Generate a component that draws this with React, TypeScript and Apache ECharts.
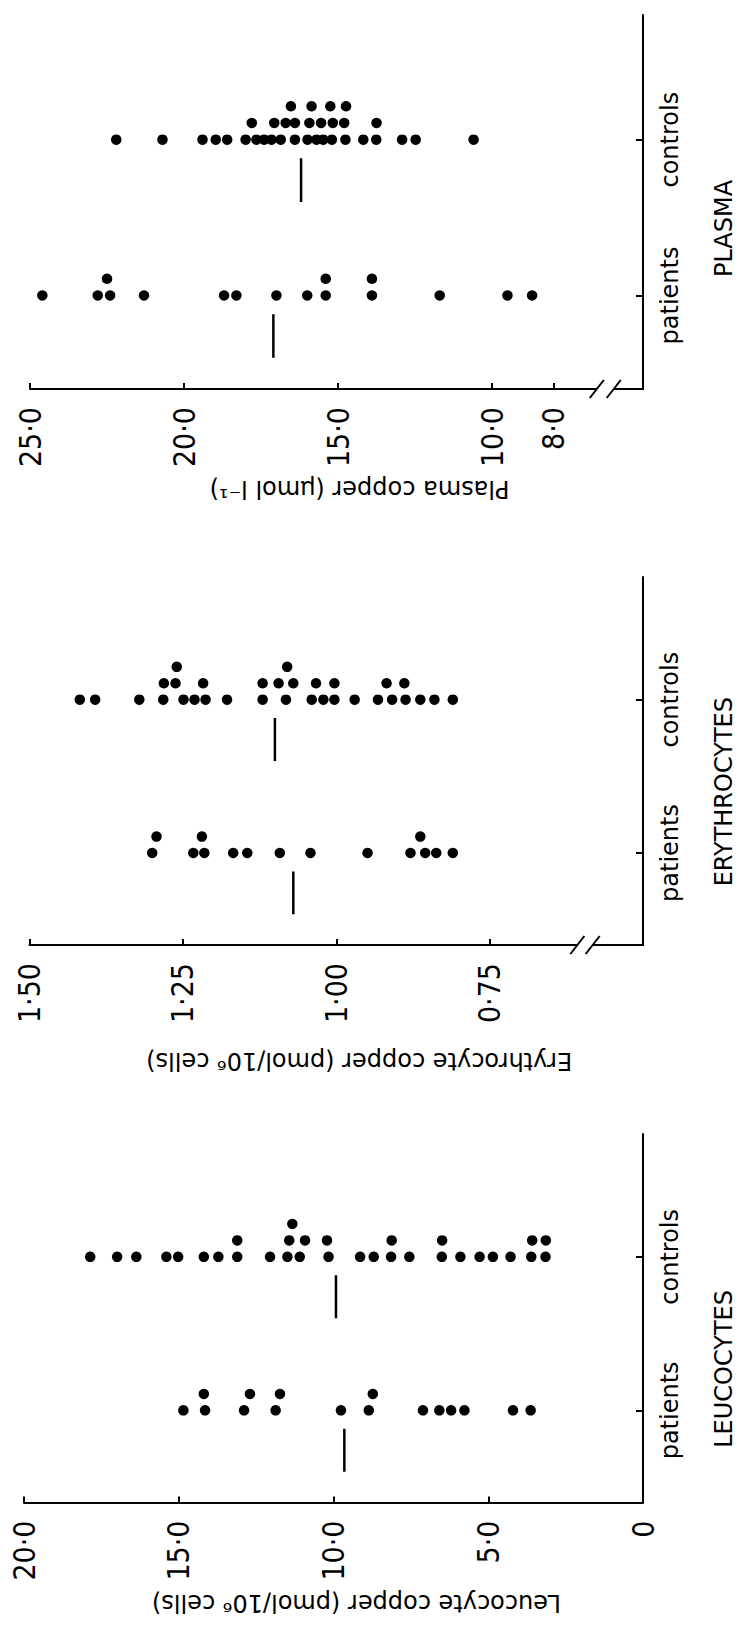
import React, { useEffect, useRef } from "react";
import * as echarts from "echarts";

// ---------- data ----------
const categories = ["patients", "controls"];
const panelTitles = ["PLASMA", "ERYTHROCYTES", "LEUCOCYTES"];
const axisTitles = [
  "Plasma copper (μmol l⁻¹)",
  "Erythrocyte copper (pmol/10⁶ cells)",
  "Leucocyte copper (pmol/10⁶ cells)",
];

const plasmaTicks = [25, 20, 15, 10, 8];
const erythroTicks = [1.5, 1.25, 1.0, 0.75];
const leucoTicks = [20, 15, 10, 5, 0];

// each point: [value, stack level]
const plasmaPatients: [number, number][] = [
  [24.6, 0], [22.8, 0], [22.4, 0], [22.5, 1], [21.3, 0], [18.7, 0], [18.3, 0],
  [17.0, 0], [16.0, 0], [15.4, 0], [15.4, 1], [13.9, 0], [13.9, 1], [11.7, 0],
  [9.5, 0], [8.7, 0],
];
const plasmaControls: [number, number][] = [
  [22.2, 0], [20.7, 0], [19.4, 0], [18.97, 0], [18.6, 0], [18.0, 0], [17.65, 0],
  [17.4, 0], [17.16, 0], [16.86, 0], [16.4, 0], [15.99, 0], [15.7, 0], [15.48, 0],
  [15.2, 0], [14.76, 0], [14.18, 0], [13.76, 0], [12.92, 0], [12.48, 0], [10.6, 0],
  [17.8, 1], [17.07, 1], [16.7, 1], [16.4, 1], [15.93, 1], [15.55, 1], [15.17, 1],
  [14.8, 1], [13.75, 1],
  [16.53, 2], [15.86, 2], [15.25, 2], [14.74, 2],
];
const erythroPatients: [number, number][] = [
  [1.3, 0], [1.233, 0], [1.215, 0], [1.168, 0], [1.145, 0], [1.092, 0], [1.042, 0],
  [0.949, 0], [0.879, 0], [0.855, 0], [0.837, 0], [0.81, 0],
  [1.293, 1], [1.219, 1], [0.863, 1],
];
const erythroControls: [number, number][] = [
  [1.418, 0], [1.393, 0], [1.321, 0], [1.282, 0], [1.249, 0], [1.231, 0], [1.213, 0],
  [1.178, 0], [1.12, 0], [1.082, 0], [1.04, 0], [1.021, 0], [1.003, 0], [0.97, 0],
  [0.932, 0], [0.909, 0], [0.887, 0], [0.863, 0], [0.84, 0], [0.81, 0],
  [1.281, 1], [1.262, 1], [1.217, 1], [1.12, 1], [1.094, 1], [1.07, 1], [1.033, 1],
  [1.003, 1], [0.918, 1], [0.889, 1],
  [1.26, 2], [1.08, 2],
];
const leucoPatients: [number, number][] = [
  [14.85, 0], [14.15, 0], [12.89, 0], [11.87, 0], [9.76, 0], [8.86, 0], [7.11, 0],
  [6.58, 0], [6.2, 0], [5.77, 0], [4.2, 0], [3.63, 0],
  [14.19, 1], [12.7, 1], [11.73, 1], [8.73, 1],
];
const leucoControls: [number, number][] = [
  [17.86, 0], [16.99, 0], [16.37, 0], [15.4, 0], [15.02, 0], [14.19, 0], [13.72, 0],
  [13.11, 0], [12.05, 0], [11.49, 0], [11.09, 0], [10.16, 0], [9.14, 0], [8.7, 0],
  [8.14, 0], [7.55, 0], [6.5, 0], [5.9, 0], [5.28, 0], [4.85, 0], [4.28, 0],
  [3.61, 0], [3.15, 0],
  [13.11, 1], [11.43, 1], [10.92, 1], [10.21, 1], [8.12, 1], [6.49, 1], [3.58, 1],
  [3.14, 1],
  [11.33, 2],
];

// medians: [patients, controls]
const plasmaMedians = [17.1, 16.2];
const erythroMedians = [1.07, 1.1];
const leucoMedians = [9.65, 9.92];

// axis-break positions (values on the value axis); none for leucocytes
const plasmaBreak = [6.6, 6.05];
const erythroBreak = [0.607, 0.582];

// ---------- layout / style ----------
const STACK = 0.107;
const Y_MIN = 0.4;
const Y_MAX = 2.8;
const AXIS_RIGHT = 643;
const BLACK = "#000";
const TICK_FONT = "'Liberation Sans Narrow', 'DejaVu Sans Condensed', 'Arial Narrow', sans-serif";
const TEXT_FONT = "'DejaVu Sans', sans-serif";

type Panel = {
  left: number;
  top: number;
  height: number;
  min: number;
  max: number;
  ticks: number[];
  fmt: (v: number) => string;
  nameGap: number;
  patients: [number, number][];
  controls: [number, number][];
  medians: number[];
  brk: number[] | null;
  titleY: number;
};

const dotFmt1 = (v: number) => (v === 0 ? "0" : v.toFixed(1).replace(".", "·"));
const dotFmt2 = (v: number) => v.toFixed(2).replace(".", "·");

const panels: Panel[] = [
  {
    left: 30, top: 15, height: 374, min: 5.1, max: 25, ticks: plasmaTicks, fmt: dotFmt1,
    nameGap: 88, patients: plasmaPatients, controls: plasmaControls, medians: plasmaMedians,
    brk: plasmaBreak, titleY: 1.43,
  },
  {
    left: 29.5, top: 577, height: 368, min: 0.5, max: 1.5, ticks: erythroTicks, fmt: dotFmt2,
    nameGap: 104, patients: erythroPatients, controls: erythroControls, medians: erythroMedians,
    brk: erythroBreak, titleY: 1.4,
  },
  {
    left: 24, top: 1134, height: 368.5, min: 0, max: 20, ticks: leucoTicks, fmt: dotFmt1,
    nameGap: 88, patients: leucoPatients, controls: leucoControls, medians: leucoMedians,
    brk: null, titleY: 1.27,
  },
];

function buildOption() {
  const grid: any[] = [];
  const xAxis: any[] = [];
  const yAxis: any[] = [];
  const series: any[] = [];
  panels.forEach((p, i) => {
    grid.push({
      left: p.left,
      top: p.top,
      width: AXIS_RIGHT - p.left,
      height: p.height,
      containLabel: false,
      outerBoundsMode: "none",
    });
    xAxis.push({
      gridIndex: i,
      type: "value",
      inverse: true,
      min: p.min,
      max: p.max,
      position: "bottom",
      splitLine: { show: false },
      axisLine: { show: true, onZero: false, lineStyle: { color: BLACK, width: 2 } },
      axisTick: {
        show: true,
        inside: true,
        length: 6,
        customValues: p.ticks,
        lineStyle: { color: BLACK, width: 2 },
      },
      axisLabel: {
        show: true,
        customValues: p.ticks,
        rotate: 90,
        margin: 18,
        formatter: (v: number) => p.fmt(v),
        color: BLACK,
        fontSize: 30,
        fontFamily: TICK_FONT,
      },
      name: axisTitles[i],
      nameLocation: "middle",
      nameRotate: 180,
      nameGap: p.nameGap,
      nameTextStyle: {
        color: BLACK,
        fontSize: 24,
        fontFamily: TEXT_FONT,
        padding: [0, 46, 0, 0],
      },
    });
    yAxis.push({
      gridIndex: i,
      type: "value",
      min: Y_MIN,
      max: Y_MAX,
      position: "right",
      splitLine: { show: false },
      axisLine: { show: true, onZero: false, lineStyle: { color: BLACK, width: 2 } },
      axisTick: {
        show: true,
        inside: true,
        length: 7,
        customValues: [1, 2],
        lineStyle: { color: BLACK, width: 2 },
      },
      axisLabel: {
        show: true,
        customValues: [1, 2],
        rotate: 90,
        margin: 15,
        formatter: (v: number) => categories[Math.round(v) - 1] ?? "",
        color: BLACK,
        fontSize: 24,
        fontFamily: TEXT_FONT,
      },
    });
    [p.patients, p.controls].forEach((pts, c) => {
      const cat = c + 1;
      series.push({
        type: "scatter",
        xAxisIndex: i,
        yAxisIndex: i,
        symbol: "circle",
        symbolSize: 10.5,
        silent: true,
        itemStyle: { color: BLACK, opacity: 1 },
        data: pts.map(([v, lvl]) => [v, cat + lvl * STACK]),
      });
      series.push({
        type: "line",
        xAxisIndex: i,
        yAxisIndex: i,
        symbol: "none",
        silent: true,
        lineStyle: { color: BLACK, width: 2.5, opacity: 1 },
        data: [
          [p.medians[c], cat - 0.12],
          [p.medians[c], cat - 0.4],
        ],
      });
    });
  });
  return { animation: false, backgroundColor: "#fff", grid, xAxis, yAxis, series };
}

export default function App() {
  const ref = useRef<HTMLDivElement | null>(null);
  useEffect(() => {
    if (!ref.current) return;
    const chart = echarts.init(ref.current, undefined, { renderer: "svg" });
    chart.setOption(buildOption());

    const graphic: any[] = [];
    panels.forEach((p, i) => {
      const finder = { xAxisIndex: i, yAxisIndex: i };
      const [, axisY] = chart.convertToPixel(finder, [p.max, Y_MIN]) as number[];
      if (p.brk) {
        const [x1] = chart.convertToPixel(finder, [p.brk[0], Y_MIN]) as number[];
        const [x2] = chart.convertToPixel(finder, [p.brk[1], Y_MIN]) as number[];
        graphic.push({
          type: "rect",
          z: 100,
          silent: true,
          shape: { x: x1, y: axisY - 3, width: x2 - x1, height: 6 },
          style: { fill: "#fff" },
        });
        [x1, x2].forEach((cx) => {
          graphic.push({
            type: "line",
            z: 101,
            silent: true,
            shape: { x1: cx - 7, y1: axisY + 9, x2: cx + 7, y2: axisY - 9 },
            style: { stroke: BLACK, lineWidth: 2 },
          });
        });
      }
      const [, ty] = chart.convertToPixel(finder, [p.max, p.titleY]) as number[];
      graphic.push({
        type: "text",
        z: 100,
        silent: true,
        x: 724,
        y: ty,
        rotation: Math.PI / 2,
        style: {
          text: panelTitles[i],
          fontSize: 24,
          fontFamily: TEXT_FONT,
          fill: BLACK,
          align: "center",
          verticalAlign: "middle",
        },
      });
    });
    chart.setOption({ graphic });

    return () => chart.dispose();
  }, []);
  return (
    <div
      ref={ref}
      style={{ position: "absolute", left: 0, top: 0, width: 745, height: 1634, background: "#fff" }}
    />
  );
}
